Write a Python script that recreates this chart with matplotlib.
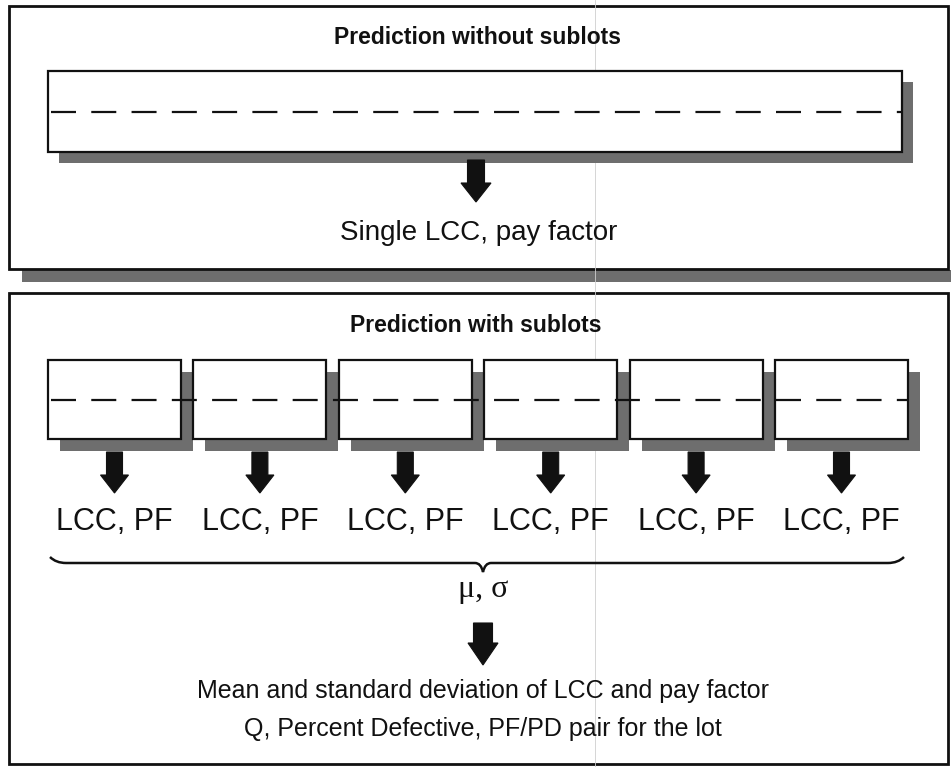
import matplotlib
matplotlib.use("Agg")
import matplotlib.pyplot as plt
from matplotlib.patches import Rectangle, Polygon, PathPatch
from matplotlib.path import Path

plt.rcParams['font.family'] = ['Liberation Sans', 'DejaVu Sans']
plt.rcParams['lines.scale_dashes'] = False

top_title = "Prediction without sublots"
top_result = "Single LCC, pay factor"
bottom_title = "Prediction with sublots"
sublot_labels = ["LCC, PF", "LCC, PF", "LCC, PF", "LCC, PF", "LCC, PF", "LCC, PF"]
stats_label = "\u03bc, \u03c3"
summary_lines = ["Mean and standard deviation of LCC and pay factor",
                 "Q, Percent Defective, PF/PD pair for the lot"]

W, H = 951, 767
SHADOW = '#6e6e6e'
INK = '#111111'

fig = plt.figure(figsize=(W / 100, H / 100), dpi=100)
ax = fig.add_axes([0, 0, 1, 1])
ax.set_xlim(0, W)
ax.set_ylim(H, 0)
ax.axis('off')


def shadow_box(x, y, w, h, off=12, lw=1.6):
    ax.add_patch(Rectangle((x + off, y + off), w, h, facecolor=SHADOW, edgecolor='none', zorder=1))
    ax.add_patch(Rectangle((x, y), w, h, facecolor='white', edgecolor=INK, lw=lw, zorder=2))


def down_arrow(x, y0, y1, shaft=17, head=30, head_h=19):
    yh = y1 - head_h
    pts = [(x - shaft / 2, y0), (x + shaft / 2, y0), (x + shaft / 2, yh), (x + head / 2, yh),
           (x, y1), (x - head / 2, yh), (x - shaft / 2, yh)]
    ax.add_patch(Polygon(pts, closed=True, facecolor=INK, edgecolor=INK, lw=0.8, zorder=3))


# top panel
ax.add_patch(Rectangle((22, 270), W - 22, 12, facecolor=SHADOW, edgecolor='none', zorder=0.4))
ax.add_patch(Rectangle((9, 6), 939, 263, facecolor='white', edgecolor=INK, lw=2, zorder=0.5))
ax.text(477, 38, top_title, ha='center', va='center', fontsize=16.5, fontweight='bold', color=INK)
shadow_box(48, 71, 854, 81, off=11)
ax.plot([51, 902], [112, 112], color=INK, lw=1.6, dashes=(18, 11), zorder=3)
down_arrow(476, 160, 202)
ax.text(479, 233, top_result, ha='center', va='center', fontsize=20, color=INK)

# bottom panel
ax.add_patch(Rectangle((9, 293), 939, 471, facecolor='white', edgecolor=INK, lw=2, zorder=0.5))
ax.text(476, 326, bottom_title, ha='center', va='center', fontsize=16.5, fontweight='bold', color=INK)

n = len(sublot_labels)
x0, pitch, bw = 48, 145.4, 133
for i, lab in enumerate(sublot_labels):
    bx = x0 + i * pitch
    shadow_box(bx, 360, bw, 79, off=12)
for i, lab in enumerate(sublot_labels):
    cx = x0 + i * pitch + bw / 2
    down_arrow(cx, 452, 493, shaft=16, head=28, head_h=18)
    ax.text(cx, 522, lab, ha='center', va='center', fontsize=22, color=INK)
ax.plot([51, x0 + (n - 1) * pitch + bw], [400, 400], color=INK, lw=1.6, dashes=(18, 11), zorder=3)

# brace
bl, br, by, mid = 50, 904, 563, 483
verts = [(bl, 557), (bl + 6, by), (bl + 16, by), (mid - 8, by), (mid - 2, by), (mid, by + 9),
         (mid + 2, by), (mid + 8, by), (br - 16, by), (br - 6, by), (br, 557)]
codes = [Path.MOVETO, Path.CURVE3, Path.CURVE3, Path.LINETO, Path.CURVE3, Path.CURVE3,
         Path.CURVE3, Path.CURVE3, Path.LINETO, Path.CURVE3, Path.CURVE3]
ax.add_patch(PathPatch(Path(verts, codes), facecolor='none', edgecolor=INK, lw=1.8, zorder=3))
ax.text(mid, 590, stats_label, ha='center', va='center', fontsize=23, color=INK,
        family=['Liberation Serif', 'DejaVu Serif'])
down_arrow(mid, 623, 665, shaft=19, head=30, head_h=22)
for k, line in enumerate(summary_lines):
    ax.text(mid, 691 + k * 38, line, ha='center', va='center', fontsize=18, color=INK)

# scan fold
ax.plot([595, 595], [0, H], color='#cfcfcf', lw=0.6, zorder=0.8)

fig.savefig('out.png', dpi=100)
